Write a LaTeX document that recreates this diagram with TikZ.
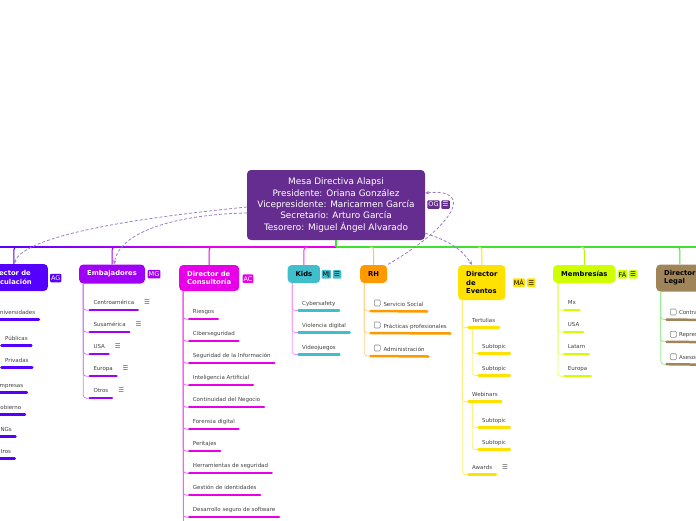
\documentclass[tikz,border=0pt]{standalone}
\usepackage{fontspec}
\setmainfont{DejaVu Sans}
\usetikzlibrary{arrows.meta}

\definecolor{cRoot}{RGB}{102,45,145}
\definecolor{cVin}{RGB}{85,0,255}
\definecolor{cEmb}{RGB}{160,0,245}
\definecolor{cCon}{RGB}{232,0,232}
\definecolor{cKid}{RGB}{64,190,204}
\definecolor{cRH}{RGB}{255,153,0}
\definecolor{cEve}{RGB}{255,225,0}
\definecolor{cMem}{RGB}{208,255,0}
\definecolor{cLeg}{RGB}{160,133,91}
\definecolor{cBus}{RGB}{64,224,48}
\definecolor{cLink}{RGB}{155,125,200}

\tikzset{
  root/.style={fill=cRoot, text=white, rounded corners=4pt, minimum width=178pt, minimum height=70pt, inner sep=0pt, align=center, font=\fontsize{8.9}{11.3}\selectfont},
  branch/.style={fill=#1, rounded corners=4pt, inner xsep=8pt, inner ysep=0pt, align=left, anchor=west, font=\fontsize{6.8}{8.2}\selectfont\bfseries},
  tag/.style={fill=#1, rounded corners=1pt, inner xsep=1pt, inner ysep=0pt, minimum height=8.5pt, font=\fontsize{6.5}{6.5}\selectfont},
  leaf/.style={anchor=base west, inner sep=0pt, text=black!75, font=\fontsize{5.5}{6.6}\selectfont},
  icon/.style={anchor=base west, inner sep=0pt, text=black!65, font=\fontsize{6.5}{6.5}\selectfont},
  chk/.style={draw=black!45, fill=white, rounded corners=1pt, minimum size=6pt, inner sep=0pt, line width=0.6pt},
  ul/.style={draw=#1, line width=2.5pt, line cap=round},
  twig/.style={draw=#1, line width=0.8pt, rounded corners=3pt},
  stub/.style={draw=#1, line width=1pt, rounded corners=3pt},
  link/.style={draw=cLink, line width=0.8pt, dash pattern=on 3pt off 2pt},
  tip/.style={-{Stealth[length=4pt,width=3.5pt]}},
}

\begin{document}
\begin{tikzpicture}[x=1pt, y=-1pt]
    \useasboundingbox (0,0) rectangle (696,520);
    \clip (0,0) rectangle (696,520);

    % mesa directiva
    \node (root) [root] at (336,205) {Mesa Directiva Alapsi\\Presidente: Oriana González\\Vicepresidente: Maricarmen García\\Secretario: Arturo García\\Tesorero: Miguel Ángel Alvarado};
    \node (rootTag) [tag=cRoot, text=white] at (433.5,204.5) {OG};
    \node (rootMenu) [tag=cRoot, text=white, minimum width=8.5pt] at (445.5,204.5) {☰};

    % ramas
    \node (vin) [branch=cVin, text=white, anchor=east, text width=52pt, minimum height=27pt] at (48,277.5) {Director de\\Vinculación};
    \node (emb) [branch=cEmb, text=white, minimum height=19pt] at (79,274) {Embajadores};
    \node (con) [branch=cCon, text=white, minimum height=26pt] at (179,278) {Director de\\Consultoría};
    \node (kid) [branch=cKid, minimum height=18pt] at (287.5,274) {Kids};
    \node (rh)  [branch=cRH, minimum height=18pt] at (360,274) {RH};
    \node (eve) [branch=cEve, minimum height=35pt] at (458,282.5) {Director\\de\\Eventos};
    \node (mem) [branch=cMem, minimum height=18pt] at (553,274) {Membresías};
    \node (leg) [branch=cLeg, minimum height=27pt] at (656,278) {Director\\Legal};

    \node (vinTag) [tag=cVin, text=white] at (55.8,278) {AG};
    \node (embTag) [tag=cEmb, text=white] at (154,274.2) {MG};
    \node (conTag) [tag=cCon, text=white] at (248,278.7) {AC};
    \node (kidTag) [tag=cKid] at (326.3,274.3) {MJ};
    \node (kidMenu) [tag=cKid, minimum width=8.5pt] at (337,274.3) {☰};
    \node (eveTag) [tag=cEve] at (518.8,282.7) {MÁ};
    \node (eveMenu) [tag=cEve, minimum width=8.5pt] at (531.2,282.7) {☰};
    \node (memTag) [tag=cMem] at (622.5,274.3) {FÁ};
    \node (memMenu) [tag=cMem, minimum width=8.5pt] at (633,274.3) {☰};

    % linea principal
    \coordinate (bus) at (0,247);
    \shade[left color=cVin, right color=cEmb] (0,246.4) rectangle (113,247.6);
    \shade[left color=cEmb, right color=cCon] (113,246.4) rectangle (210,247.6);
    \fill[cCon] (210,246.4) rectangle (336,247.6);
    \fill[cBus] (336,246.4) rectangle (696,247.6);
    \draw[cBus, line width=2pt] (root.south) -- (bus -| root.south);

    \draw[stub=cVin] (vin.north) |- ([xshift=4pt]bus -| vin.north);
    \draw[stub=cEmb] (emb.north) |- ([xshift=4pt]bus -| emb.north);
    \draw[stub=cCon] (con.north) |- ([xshift=4pt]bus -| con.north);
    \draw[stub=cCon!80] (kid.north) |- ([xshift=4pt]bus -| kid.north);
    \draw[stub=cRH!60] (rh.north) |- ([xshift=-4pt]bus -| rh.north);
    \draw[stub=cEve] (eve.north) |- ([xshift=-4pt]bus -| eve.north);
    \draw[stub=cMem!80!cBus] (mem.north) |- ([xshift=-4pt]bus -| mem.north);
    \draw[stub=cBus] (leg.north) |- ([xshift=-4pt]bus -| leg.north);

    % vinculacion
    \foreach \lbl/\yy [count=\i] in {Universidades/312, Empresas/385, Gobierno/407, ONGs/429, Otros/451} {
        \node (vin\i) [leaf] at (-4,{\yy+2}) {\lbl};
        \draw[twig=cVin!50] (vin.south west) ++(6,0) |- ([xshift=-3.5pt,yshift=-5.5pt]vin\i.base west);
        \draw[ul=cVin] ([xshift=-3.5pt,yshift=-5.5pt]vin\i.base west) -- ([xshift=3.5pt,yshift=-5.5pt]vin\i.base east);
    }
    \foreach \lbl/\yy [count=\i] in {Públicas/338, Privadas/360} {
        \node (vinU\i) [leaf] at (5,{\yy+2}) {\lbl};
        \draw[twig=cVin!50] ([xshift=0.3pt,yshift=-5.5pt]vin1.base west) |- ([xshift=-3.5pt,yshift=-5.5pt]vinU\i.base west);
        \draw[ul=cVin] ([xshift=-3.5pt,yshift=-5.5pt]vinU\i.base west) -- ([xshift=3.5pt,yshift=-5.5pt]vinU\i.base east);
    }

    % embajadores
    \foreach \lbl [count=\i] in {Centroamérica, Susamérica, USA, Europa, Otros} {
        \node (emb\i) [leaf] at (93.3,{282.7+22*\i}) {\lbl};
        \node (embMenu\i) [icon] at ([xshift=9.5pt]emb\i.base east) {☰};
        \draw[twig=cEmb!50] (emb.south west) ++(4.3,0) |- ([xshift=-3.5pt,yshift=-5.5pt]emb\i.base west);
        \draw[ul=cEmb] ([xshift=-3.5pt,yshift=-5.5pt]emb\i.base west) -- ([xshift=3.5pt,yshift=-5.5pt]emb\i.base east);
    }

    % consultoria
    \draw[twig=cCon!60] (con.south west) ++(4.3,0) -- ++(0,240);
    \foreach \lbl [count=\i] in {Riesgos, Ciberseguridad, Seguridad de la Información, Inteligencia Artificial, Continuidad del Negocio, Forensia digital, Peritajes, Herramientas de seguridad, Gestión de identidades, Desarrollo seguro de software} {
        \node (con\i) [leaf] at (192.7,{291.7+22*\i}) {\lbl};
        \draw[twig=cCon!60] (con.south west) ++(4.3,0) |- ([xshift=-3.5pt,yshift=-5.5pt]con\i.base west);
        \draw[ul=cCon] ([xshift=-3.5pt,yshift=-5.5pt]con\i.base west) -- ([xshift=3.5pt,yshift=-5.5pt]con\i.base east);
    }

    % kids
    \foreach \lbl [count=\i] in {Cybersafety, Violencia digital, Videojuegos} {
        \node (kid\i) [leaf] at (302,{283+22*\i}) {\lbl};
        \draw[twig=cCon!40] (kid.south west) ++(4.8,0) |- ([xshift=-3.5pt,yshift=-5.5pt]kid\i.base west);
        \draw[ul=cKid] ([xshift=-3.5pt,yshift=-5.5pt]kid\i.base west) -- ([xshift=3.5pt,yshift=-5.5pt]kid\i.base east);
    }

    % rh
    \foreach \lbl/\yy [count=\i] in {Servicio Social/304, Prácticas profesionales/326, Administración/349} {
        \node (rhBox\i) [chk] at (377.3,{\yy-1}) {};
        \node (rh\i) [leaf] at (383.3,{\yy+2}) {\lbl};
        \draw[twig=cRH!45] (rh.south west) ++(4.3,0) |- ([xshift=-3.5pt,yshift=-8pt]rhBox\i.west);
        \draw[ul=cRH] ([xshift=-3.5pt,yshift=-8pt]rhBox\i.west) -- ([xshift=3.5pt,yshift=-5.5pt]rh\i.base east);
    }

    % eventos
    \node (eve1) [leaf] at (472,322) {Tertulias};
    \node (eve2) [leaf] at (472,396) {Webinars};
    \node (eve3) [leaf] at (472,469) {Awards};
    \node (eveMenu3) [icon] at ([xshift=9.5pt]eve3.base east) {☰};
    \node (eve1a) [leaf] at (482,348) {Subtopic};
    \node (eve1b) [leaf] at (482,370) {Subtopic};
    \node (eve2a) [leaf] at (482,422) {Subtopic};
    \node (eve2b) [leaf] at (482,444) {Subtopic};
    \foreach \n in {eve1, eve2, eve3}
        \draw[twig=cEve!55] (eve.south west) ++(4.3,0) |- ([xshift=-3.5pt,yshift=-5.5pt]\n.base west);
    \foreach \p/\n in {eve1/eve1a, eve1/eve1b, eve2/eve2a, eve2/eve2b}
        \draw[twig=cEve!55] ([xshift=0.3pt,yshift=-5.5pt]\p.base west) |- ([xshift=-3.5pt,yshift=-5.5pt]\n.base west);
    \foreach \n in {eve1, eve2, eve3, eve1a, eve1b, eve2a, eve2b}
        \draw[ul=cEve] ([xshift=-3.5pt,yshift=-5.5pt]\n.base west) -- ([xshift=3.5pt,yshift=-5.5pt]\n.base east);

    % membresias
    \foreach \lbl [count=\i] in {Mx, USA, Latam, Europa} {
        \node (mem\i) [leaf] at (567.7,{282.7+22*\i}) {\lbl};
        \draw[twig=cMem!60] (mem.south west) ++(5,0) |- ([xshift=-3.5pt,yshift=-5.5pt]mem\i.base west);
        \draw[ul=cMem] ([xshift=-3.5pt,yshift=-5.5pt]mem\i.base west) -- ([xshift=3.5pt,yshift=-5.5pt]mem\i.base east);
    }

    % legal
    \foreach \lbl/\yy [count=\i] in {Contratos/312, Representación/334.3, Asesoría/356.7} {
        \node (legBox\i) [chk] at (673.3,\yy) {};
        \node (leg\i) [leaf] at (678.8,{\yy+2.5}) {\lbl};
        \draw[twig=cBus!55] (leg.south west) ++(4.7,0) |- ([xshift=-3.5pt,yshift=-7.5pt]legBox\i.west);
        \draw[ul=cLeg] ([xshift=-3.5pt,yshift=-7.5pt]legBox\i.west) -- ([xshift=3.5pt,yshift=-5.5pt]leg\i.base east);
    }

    % enlaces punteados
    \draw[link, tip] ([yshift=-2pt]root.west) .. controls +(-100,10) and +(12,-30) .. (vin.north);
    \draw[link, tip] ([yshift=-8pt]root.west) .. controls +(-60,1) and +(6,-36) .. ([xshift=2pt]emb.north);
    \draw[link, tip, {Stealth[length=4pt,width=3.5pt]}-] ([yshift=12pt]root.east) .. controls +(50,-5) and +(67,-39) .. (rh.north east);
    \draw[link, tip] ([yshift=7pt]root.south east) .. controls +(25,8) and +(-10,-15) .. ([xshift=14pt]eve.north west);

\end{tikzpicture}
\end{document}
